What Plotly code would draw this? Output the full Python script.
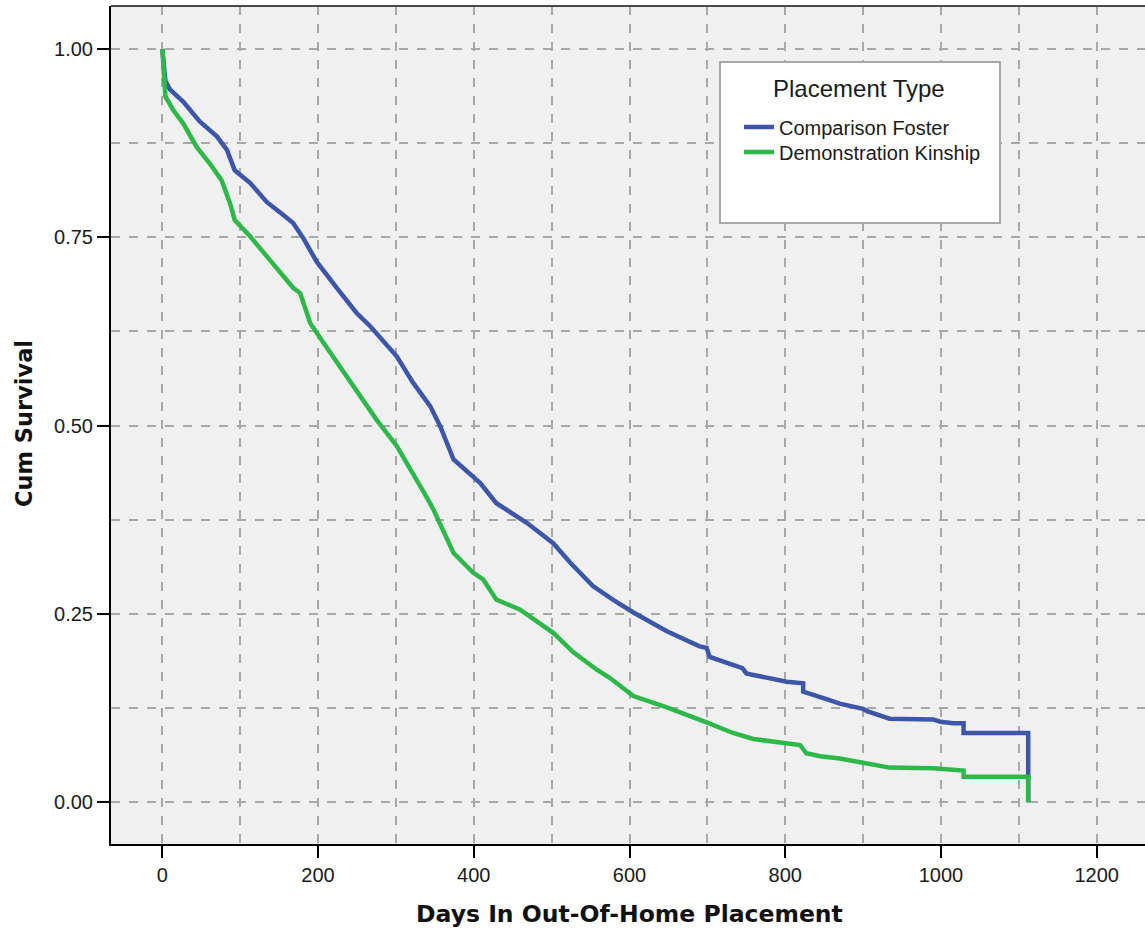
import plotly.graph_objects as go

# ---- data ----
foster_days = [0, 2, 4, 10, 27, 48, 70, 83, 93, 113, 134, 155, 168, 181, 198, 224, 250, 267,
               301, 322, 344, 357, 374, 408, 429, 468, 502, 524, 553, 580, 605, 648, 690, 699,
               703, 745, 750, 759, 802, 823, 823, 853, 870, 900, 905, 934, 990, 999, 1016,
               1029, 1029, 1112, 1112]
foster_surv = [1.000, 0.975, 0.957, 0.946, 0.930, 0.904, 0.884, 0.866, 0.839, 0.822, 0.797,
               0.780, 0.769, 0.749, 0.718, 0.683, 0.649, 0.632, 0.592, 0.557, 0.526, 0.499,
               0.455, 0.424, 0.397, 0.371, 0.344, 0.318, 0.287, 0.268, 0.252, 0.227, 0.207,
               0.205, 0.193, 0.178, 0.171, 0.169, 0.160, 0.158, 0.147, 0.137, 0.131, 0.124,
               0.121, 0.111, 0.110, 0.107, 0.105, 0.105, 0.092, 0.092, 0.000]

kinship_days = [0, 2, 4, 14, 27, 44, 61, 76, 87, 93, 113, 134, 155, 168, 177, 190, 207, 228,
                254, 275, 301, 322, 340, 348, 374, 399, 412, 429, 459, 502, 528, 558, 575, 605,
                648, 699, 733, 759, 819, 827, 845, 870, 909, 934, 990, 1016, 1029, 1029,
                1112, 1112]
kinship_surv = [1.000, 0.968, 0.937, 0.919, 0.901, 0.870, 0.848, 0.826, 0.795, 0.773, 0.751,
                0.725, 0.698, 0.683, 0.676, 0.636, 0.610, 0.579, 0.539, 0.508, 0.473, 0.437,
                0.404, 0.389, 0.331, 0.305, 0.296, 0.269, 0.256, 0.225, 0.199, 0.176, 0.165,
                0.141, 0.126, 0.106, 0.092, 0.084, 0.076, 0.065, 0.061, 0.058, 0.050, 0.046,
                0.045, 0.042, 0.042, 0.034, 0.034, 0.000]

series_names = ["Comparison Foster", "Demonstration Kinship"]
series_colors = ["#3D56A8", "#2EB84A"]
x_ticks = [0, 200, 400, 600, 800, 1000, 1200]
y_ticks = [0.00, 0.25, 0.50, 0.75, 1.00]

# ---- figure ----
W, H = 1145, 932
L, R, T, B = 111, 0, 6, 88
pw, ph = W - L - R, H - T - B

def px_x(p):
    return (p - L) / pw

def px_y(p):
    return (H - B - p) / ph

fig = go.Figure()
for i, (days, surv) in enumerate([(foster_days, foster_surv), (kinship_days, kinship_surv)]):
    fig.add_trace(go.Scatter(x=days, y=surv, mode="lines", name=series_names[i],
                             line=dict(color=series_colors[i], width=4.5),
                             legend="legend" if i == 0 else "legend2"))

grid_col = "#A8A8A8"
tick_font = dict(family="Liberation Sans, Arial", size=20, color="#1a1a1a")
fig.update_xaxes(
    range=[-65.9, 1262], tickvals=x_ticks, ticktext=[str(v) for v in x_ticks],
    showline=True, linecolor="black", linewidth=2, automargin=False,
    ticks="outside", ticklen=12, tickwidth=2, tickcolor="black", tickfont=tick_font,
    showgrid=True, gridcolor=grid_col, gridwidth=2, griddash="9px,9px",
    minor=dict(dtick=100, tick0=0, showgrid=True, gridcolor=grid_col, gridwidth=2,
               griddash="9px,9px", ticks=""),
    zeroline=False,
)
fig.update_yaxes(
    range=[-0.0554, 1.0571], tickvals=y_ticks, tickformat=".2f",
    showline=True, linecolor="black", linewidth=2, automargin=False,
    ticks="outside", ticklen=12, tickwidth=2, tickcolor="black", tickfont=tick_font,
    showgrid=True, gridcolor=grid_col, gridwidth=2, griddash="9px,9px",
    minor=dict(dtick=0.125, tick0=0, showgrid=True, gridcolor=grid_col, gridwidth=2,
               griddash="9px,9px", ticks=""),
    zeroline=False,
)

leg_common = dict(xanchor="left", yanchor="middle", bgcolor="rgba(0,0,0,0)", borderwidth=0,
                  font=dict(family="Liberation Sans, Arial", size=20, color="#1a1a1a"))
fig.update_layout(
    width=W, height=H,
    margin=dict(l=L, r=R, t=T, b=B, pad=0, autoexpand=False),
    paper_bgcolor="white", plot_bgcolor="#F0F0F0",
    showlegend=True,
    legend=dict(x=px_x(739), y=px_y(127), **leg_common),
    legend2=dict(x=px_x(739), y=px_y(152), **leg_common),
    shapes=[
        dict(type="line", xref="paper", yref="paper", x0=0, x1=1, y0=1, y1=1,
             line=dict(color="#4a4a4a", width=2), layer="above"),
        dict(type="rect", xref="paper", yref="paper",
             x0=px_x(720), x1=px_x(1000), y0=px_y(223), y1=px_y(62),
             fillcolor="white", line=dict(color="#A8A8A8", width=2), layer="above"),
    ],
    annotations=[
        dict(text="Placement Type", xref="paper", yref="paper", x=px_x(859), y=px_y(88),
             xanchor="center", yanchor="middle", showarrow=False,
             font=dict(family="Liberation Sans, Arial", size=24, color="#1a1a1a")),
        dict(text="<b>Days In Out-Of-Home Placement</b>", xref="paper", yref="paper",
             x=px_x(629), y=px_y(914), xanchor="center", yanchor="middle", showarrow=False,
             font=dict(family="DejaVu Sans", size=23.5, color="#111")),
        dict(text="<b>Cum Survival</b>", xref="paper", yref="paper", textangle=-90,
             x=px_x(24), y=px_y(424), xanchor="center", yanchor="middle", showarrow=False,
             font=dict(family="DejaVu Sans", size=22.5, color="#111")),
    ],
)

fig.write_html("out.html", config={"displayModeBar": False},
               post_script="document.body.style.margin='0';document.body.style.overflow='hidden';")
